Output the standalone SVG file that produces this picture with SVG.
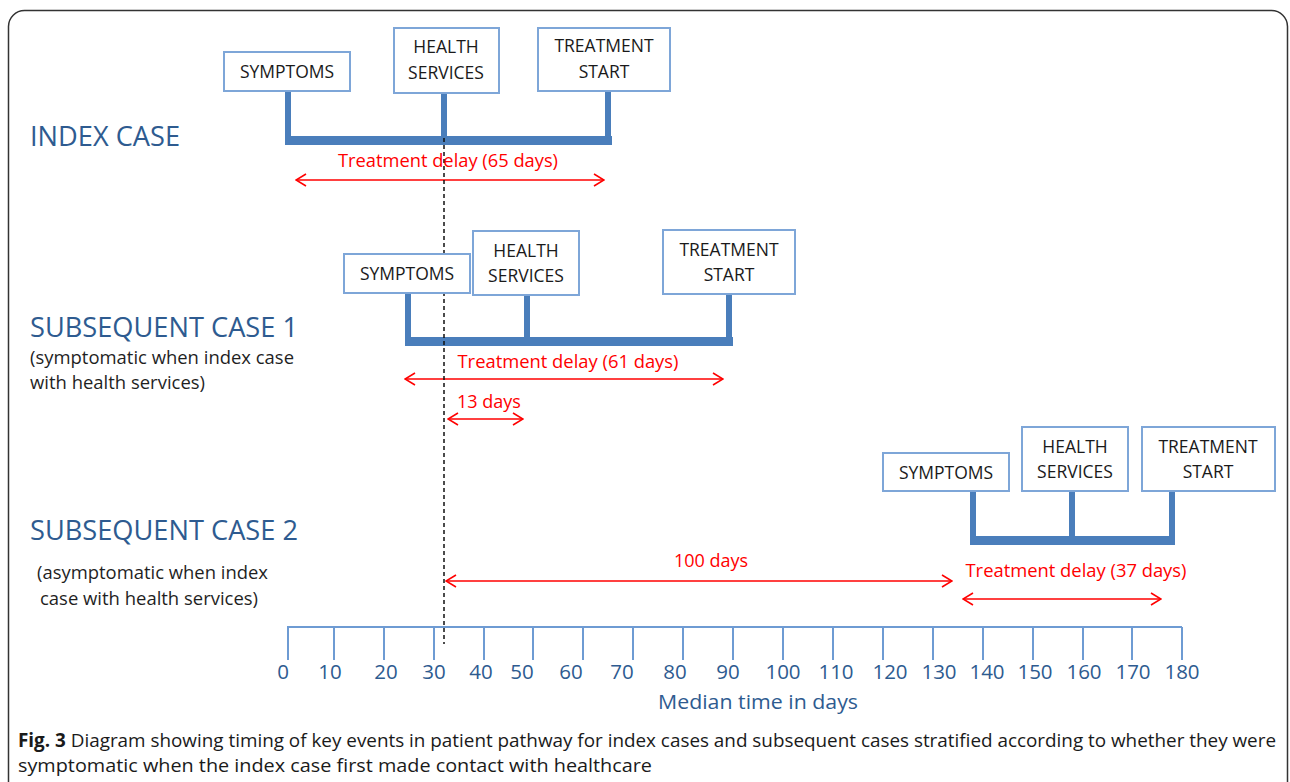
<svg xmlns="http://www.w3.org/2000/svg" width="1290" height="782" viewBox="0 0 1290 782">
<style>
.box{fill:#fff;stroke:#7ea6d8;stroke-width:2}
.bt{font-family:"Open Sans","Liberation Sans",sans-serif;font-size:17.5px;fill:#1a1a1a;text-anchor:middle}
.head{font-family:"Open Sans","Liberation Sans",sans-serif;font-size:28px;fill:#2e5b90}
.sub{font-family:"Open Sans","Liberation Sans",sans-serif;font-size:17.5px;fill:#1f1f1f}
.red{font-family:"Open Sans","Liberation Sans",sans-serif;font-size:18px;fill:#ff0000;text-anchor:middle}
.bar{fill:#4a7ebb}
.arr{stroke:#ff0000;stroke-width:1.6;fill:none;marker-start:url(#ah);marker-end:url(#ah)}
.axis{stroke:#6e9bd3;stroke-width:2;fill:none}
.num{font-family:"Open Sans","Liberation Sans",sans-serif;font-size:20.5px;fill:#2e5b90;text-anchor:middle}
.cap{font-family:"Open Sans","Liberation Sans",sans-serif;font-size:19px;fill:#1a1a1a}
</style>
<defs>
<marker id="ah" viewBox="0 0 12 14" refX="11" refY="7" markerWidth="12" markerHeight="14" markerUnits="userSpaceOnUse" orient="auto-start-reverse">
<path d="M1,1 L11,7 L1,13" fill="none" stroke="#ff0000" stroke-width="1.6"/>
</marker>
</defs>
<rect x="8.5" y="10.5" width="1279" height="820" rx="16" fill="#fff" stroke="#333" stroke-width="1.5"/>

<g id="labels">
<text class="head" x="30" y="146" textLength="150" lengthAdjust="spacingAndGlyphs">INDEX CASE</text>
<text class="head" x="30" y="337" textLength="268" lengthAdjust="spacingAndGlyphs">SUBSEQUENT CASE 1</text>
<text class="sub" x="30" y="364" textLength="264" lengthAdjust="spacingAndGlyphs">(symptomatic when index case</text>
<text class="sub" x="30" y="389" textLength="175" lengthAdjust="spacingAndGlyphs">with health services)</text>
<text class="head" x="30" y="540" textLength="268" lengthAdjust="spacingAndGlyphs">SUBSEQUENT CASE 2</text>
<text class="sub" x="37" y="579" textLength="231" lengthAdjust="spacingAndGlyphs">(asymptomatic when index</text>
<text class="sub" x="40" y="605" textLength="218" lengthAdjust="spacingAndGlyphs">case with health services)</text>
</g>

<g id="connectors">
<rect class="bar" x="285" y="91" width="6" height="50"/>
<rect class="bar" x="441" y="93" width="6" height="48"/>
<rect class="bar" x="605" y="91" width="6" height="50"/>
<rect class="bar" x="285" y="136" width="327" height="9"/>
<rect class="bar" x="405" y="293" width="6" height="50"/>
<rect class="bar" x="524" y="296" width="6" height="47"/>
<rect class="bar" x="726" y="294" width="6" height="49"/>
<rect class="bar" x="405" y="337" width="328" height="9"/>
<rect class="bar" x="970" y="491" width="6" height="50"/>
<rect class="bar" x="1069" y="491" width="6" height="50"/>
<rect class="bar" x="1169" y="491" width="6" height="50"/>
<rect class="bar" x="970" y="536" width="205" height="9"/>
<line class="arr" x1="296" y1="180" x2="604" y2="180"/>
<line class="arr" x1="405" y1="379" x2="723" y2="379"/>
<line class="arr" x1="448" y1="419" x2="523" y2="419"/>
<line class="arr" x1="446" y1="581" x2="952" y2="581"/>
<line class="arr" x1="963" y1="599" x2="1161" y2="599"/>
<line x1="444" y1="138" x2="444" y2="644" stroke="#111" stroke-width="1.5" stroke-dasharray="4,3"/>
</g>

<g id="index-symptoms"><rect class="box" x="224" y="52" width="126" height="39"/><text class="bt" x="287" y="78">SYMPTOMS</text></g>
<g id="index-health"><rect class="box" x="394" y="28" width="105" height="65"/><text class="bt" x="446" y="53">HEALTH</text><text class="bt" x="446" y="79">SERVICES</text></g>
<g id="index-treatment"><rect class="box" x="538" y="28" width="132" height="63"/><text class="bt" x="604" y="52">TREATMENT</text><text class="bt" x="604" y="78">START</text></g>

<g id="case1-symptoms"><rect class="box" x="344" y="254" width="126" height="39"/><text class="bt" x="407" y="280">SYMPTOMS</text></g>
<g id="case1-health"><rect class="box" x="473" y="231" width="106" height="64"/><text class="bt" x="526" y="257">HEALTH</text><text class="bt" x="526" y="282">SERVICES</text></g>
<g id="case1-treatment"><rect class="box" x="663" y="230" width="132" height="64"/><text class="bt" x="729" y="256">TREATMENT</text><text class="bt" x="729" y="281">START</text></g>

<g id="case2-symptoms"><rect class="box" x="883" y="453" width="126" height="38"/><text class="bt" x="946" y="479">SYMPTOMS</text></g>
<g id="case2-health"><rect class="box" x="1022" y="427" width="106" height="64"/><text class="bt" x="1075" y="453">HEALTH</text><text class="bt" x="1075" y="478">SERVICES</text></g>
<g id="case2-treatment"><rect class="box" x="1142" y="427" width="133" height="64"/><text class="bt" x="1208" y="453">TREATMENT</text><text class="bt" x="1208" y="478">START</text></g>

<g id="red-labels">
<text class="red" x="448" y="167" textLength="220" lengthAdjust="spacingAndGlyphs">Treatment delay (65 days)</text>
<text class="red" x="568" y="368" textLength="221" lengthAdjust="spacingAndGlyphs">Treatment delay (61 days)</text>
<text class="red" x="489" y="408">13 days</text>
<text class="red" x="711" y="567">100 days</text>
<text class="red" x="1076" y="577" textLength="221" lengthAdjust="spacingAndGlyphs">Treatment delay (37 days)</text>
</g>

<g id="axis">
<path class="axis" d="M287,627 H1182 M288,627 V660 M334,627 V660 M384,627 V660 M434,627 V660 M484,627 V660 M533,627 V660 M583,627 V660 M633,627 V660 M683,627 V660 M733,627 V660 M783,627 V660 M833,627 V660 M883,627 V660 M933,627 V660 M983,627 V660 M1033,627 V660 M1083,627 V660 M1132,627 V660 M1182,627 V660"/>
<text class="num" x="283" y="679">0</text>
<text class="num" x="330" y="679">10</text>
<text class="num" x="386" y="679">20</text>
<text class="num" x="434" y="679">30</text>
<text class="num" x="481" y="679">40</text>
<text class="num" x="522" y="679">50</text>
<text class="num" x="571" y="679">60</text>
<text class="num" x="622" y="679">70</text>
<text class="num" x="675" y="679">80</text>
<text class="num" x="728" y="679">90</text>
<text class="num" x="783" y="679">100</text>
<text class="num" x="836" y="679">110</text>
<text class="num" x="890" y="679">120</text>
<text class="num" x="939" y="679">130</text>
<text class="num" x="987" y="679">140</text>
<text class="num" x="1035" y="679">150</text>
<text class="num" x="1084" y="679">160</text>
<text class="num" x="1133" y="679">170</text>
<text class="num" x="1182" y="679">180</text>
<text class="num" x="758" y="709" textLength="200" lengthAdjust="spacingAndGlyphs">Median time in days</text>
</g>

<g id="caption">
<text class="cap" x="18" y="747" textLength="1258" lengthAdjust="spacingAndGlyphs"><tspan font-weight="bold">Fig. 3</tspan> Diagram showing timing of key events in patient pathway for index cases and subsequent cases stratified according to whether they were</text>
<text class="cap" x="18" y="772" textLength="634" lengthAdjust="spacingAndGlyphs">symptomatic when the index case first made contact with healthcare</text>
</g>
</svg>
